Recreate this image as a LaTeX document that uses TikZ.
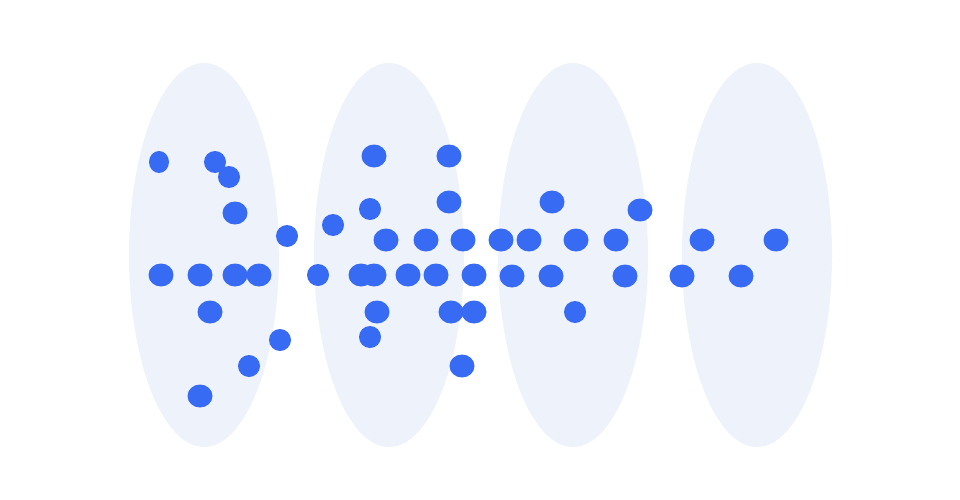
\documentclass[tikz,border=0pt]{standalone}
\usetikzlibrary{shapes.geometric}

\definecolor{dotblue}{HTML}{386BF4}
\definecolor{groupbg}{HTML}{EEF2FA}

\tikzset{
  group/.style={ellipse, fill=groupbg, minimum width=150pt, minimum height=384pt, inner sep=0pt},
  dot/.style={ellipse, fill=dotblue, minimum width=25pt, minimum height=23pt, inner sep=0pt},
  smalldot/.style={ellipse, fill=dotblue, minimum width=22pt, minimum height=22pt, inner sep=0pt}
}

\begin{document}
\begin{tikzpicture}[x=1pt,y=-1pt]

  \useasboundingbox (0,0) rectangle (960,500);

  % Groups
  \node[group] (g1) at (204,255) {};
  \node[group] (g2) at (389,255) {};
  \node[group] (g3) at (573,255) {};
  \node[group] (g4) at (757,255) {};

  % Dots, first group
  \node[smalldot, minimum width=20pt] (a1) at (159,162) {};
  \node[smalldot] (a2)  at (215,162) {};
  \node[smalldot] (a3)  at (229,177) {};
  \node[dot]      (a4)  at (235,213) {};
  \node[smalldot] (a5)  at (287,236) {};
  \node[dot]      (a6)  at (161,275) {};
  \node[dot]      (a7)  at (200,275) {};
  \node[dot]      (a8)  at (235,275) {};
  \node[dot]      (a9)  at (259,275) {};
  \node[dot]      (a10) at (210,312) {};
  \node[smalldot] (a11) at (280,340) {};
  \node[smalldot] (a12) at (249,366) {};
  \node[dot]      (a13) at (200,396) {};

  % Dots, second group
  \node[dot]      (b1)  at (374,156) {};
  \node[dot]      (b2)  at (449,156) {};
  \node[smalldot] (b3)  at (370,209) {};
  \node[dot]      (b4)  at (449,202) {};
  \node[smalldot] (b5)  at (333,225) {};
  \node[dot]      (b6)  at (386,240) {};
  \node[dot]      (b7)  at (426,240) {};
  \node[dot]      (b8)  at (463,240) {};
  \node[smalldot] (b9)  at (318,275) {};
  \node[dot]      (b10) at (361,275) {};
  \node[dot]      (b11) at (374,275) {};
  \node[dot]      (b12) at (408,275) {};
  \node[dot]      (b13) at (436,275) {};
  \node[dot]      (b14) at (474,275) {};
  \node[dot]      (b15) at (377,312) {};
  \node[dot]      (b16) at (451,312) {};
  \node[dot]      (b17) at (474,312) {};
  \node[smalldot] (b18) at (370,337) {};
  \node[dot]      (b19) at (462,366) {};

  % Dots, third group
  \node[dot]      (c1)  at (552,202) {};
  \node[dot]      (c2)  at (640,210) {};
  \node[dot]      (c3)  at (501,240) {};
  \node[dot]      (c4)  at (529,240) {};
  \node[dot]      (c5)  at (576,240) {};
  \node[dot]      (c6)  at (616,240) {};
  \node[dot]      (c7)  at (512,276) {};
  \node[dot]      (c8)  at (551,276) {};
  \node[dot]      (c9)  at (625,276) {};
  \node[smalldot] (c10) at (575,312) {};

  % Dots, fourth group
  \node[dot]      (d1)  at (702,240) {};
  \node[dot]      (d2)  at (776,240) {};
  \node[dot]      (d3)  at (682,276) {};
  \node[dot]      (d4)  at (741,276) {};

\end{tikzpicture}
\end{document}
